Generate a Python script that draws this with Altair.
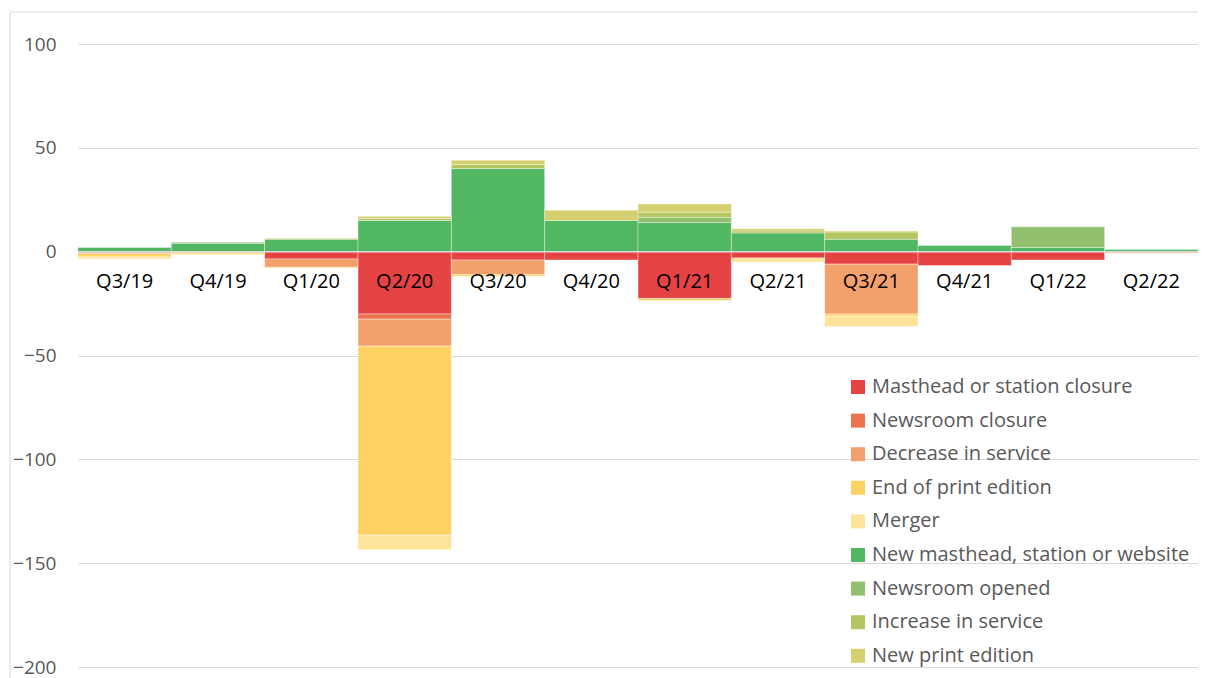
import altair as alt
import pandas as pd

quarters = ["Q3/19", "Q4/19", "Q1/20", "Q2/20", "Q3/20", "Q4/20",
            "Q1/21", "Q2/21", "Q3/21", "Q4/21", "Q1/22", "Q2/22"]

series = ["Masthead or station closure", "Newsroom closure", "Decrease in service",
          "End of print edition", "Merger", "New masthead, station or website",
          "Newsroom opened", "Increase in service", "New print edition"]

colors = ["#E64345", "#ED7350", "#F2A06C", "#FDD262", "#FEE39A",
          "#52B762", "#92C06E", "#B5C562", "#D4CF6F"]

masthead_closure = [-0.5, 0, -3.5, -30, -4, -4, -22.5, -3, -6, -6.7, -4, -0.5]
newsroom_closure = [0, 0, 0, -2.5, 0, 0, 0, 0, 0, 0, 0, 0]
decrease_service = [-0.5, 0, -4, -13, -7, 0, 0, 0, -24, 0, 0, 0]
end_print = [-1.5, 0, -0.4, -91, -0.8, 0, -1, 0, -1, 0, 0, -0.3]
merger = [-1, -1.5, 0, -7, 0, 0, 0, -2, -5, 0, 0, -0.3]
new_masthead = [2, 4, 6, 15, 40, 15, 14, 9, 6, 3, 2, 1]
newsroom_opened = [0, 0.5, 0, 0, 0, 0, 2.5, 0, 0, 0, 10, 0]
increase_service = [0, 0, 0, 1, 2, 0, 2.5, 1, 3.5, 0, 0, 0]
new_print = [0, 0, 0.5, 1, 2, 5, 4, 1, 0.5, 0, 0, 0]

all_values = [masthead_closure, newsroom_closure, decrease_service, end_print, merger,
              new_masthead, newsroom_opened, increase_service, new_print]

rows = []
for k, (name, vals) in enumerate(zip(series, all_values)):
    for q, v in zip(quarters, vals):
        if v != 0:
            rows.append({"quarter": q, "series": name, "value": v, "ord": k})
df = pd.DataFrame(rows)

FONT = "Open Sans"

x_enc = alt.X("quarter:N", sort=quarters, axis=None,
              scale=alt.Scale(paddingInner=0, paddingOuter=0))

bars = alt.Chart(df).mark_bar(stroke="white", strokeWidth=0.6, strokeOpacity=0.6).encode(
    x=x_enc,
    y=alt.Y("value:Q", stack="zero",
            scale=alt.Scale(domain=[-200, 100], nice=False, zero=False),
            axis=alt.Axis(values=[-200, -150, -100, -50, 0, 50, 100], title=None,
                          domain=False, ticks=False, labelFont=FONT, labelFontSize=19,
                          labelColor="#595959", labelPadding=22, grid=True,
                          gridColor="#d9d9d9", gridWidth=1)),
    color=alt.Color("series:N", scale=alt.Scale(domain=series, range=colors),
                    legend=alt.Legend(orient="none", legendX=770, legendY=333, title=None,
                                      symbolType="square", symbolSize=196,
                                      symbolStrokeWidth=0, labelFont=FONT,
                                      labelFontSize=20, labelColor="#595959",
                                      rowPadding=13.6, labelOffset=4, labelLimit=400)),
    order=alt.Order("ord:Q"),
)

zero_line = alt.Chart(pd.DataFrame({"y": [0]})).mark_rule(color="#d9d9d9", strokeWidth=1.5).encode(
    y=alt.Y("y:Q")
)

labels = alt.Chart(pd.DataFrame({"quarter": quarters})).mark_text(
    font=FONT, fontSize=20, color="#000000", dy=30, baseline="middle"
).encode(
    x=alt.X("quarter:N", sort=quarters),
    y=alt.datum(0),
    text="quarter:N",
)

border_left = alt.Chart(pd.DataFrame({"a": [0]})).mark_rule(color="#d9d9d9", strokeWidth=1).encode(
    x=alt.value(-68), y=alt.value(-32), y2=alt.value(700)
)
border_top = alt.Chart(pd.DataFrame({"a": [0]})).mark_rule(color="#d9d9d9", strokeWidth=1).encode(
    x=alt.value(-68), x2=alt.value(1200), y=alt.value(-32)
)

chart = alt.layer(border_left, border_top, bars, zero_line, labels).properties(
    width=1120, height=623,
    autosize=alt.AutoSizeParams(type="none"),
    padding={"left": 70, "top": 36, "right": 0, "bottom": 11},
).configure_view(stroke=None)

chart.save("out.html", embed_options={"renderer": "svg", "actions": False})
